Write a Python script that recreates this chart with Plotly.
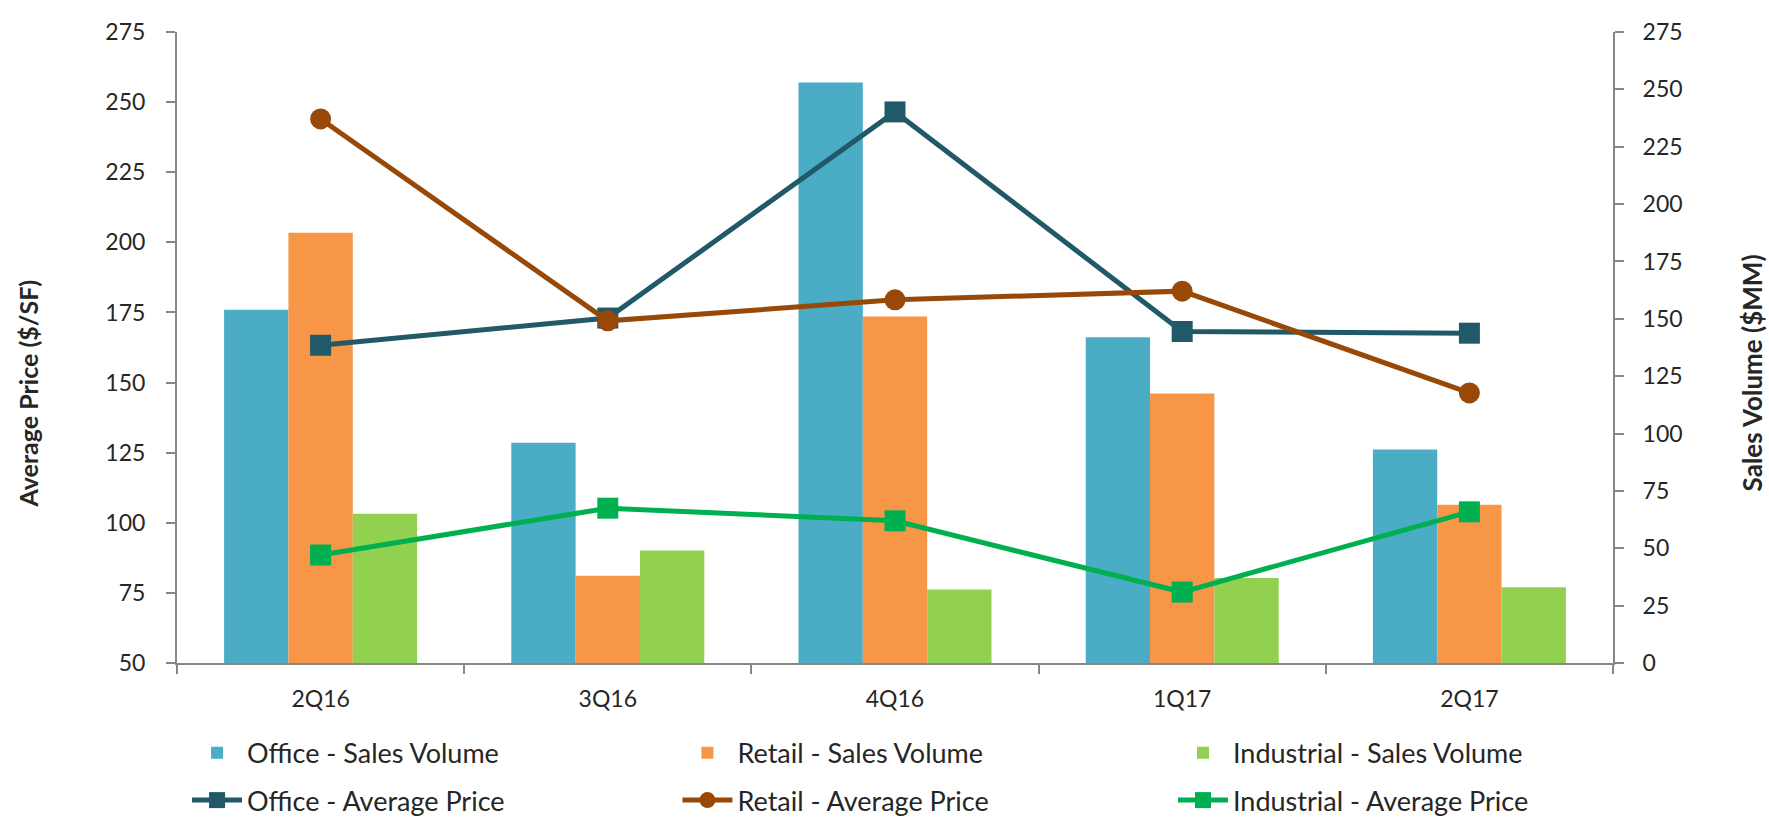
import plotly.graph_objects as go

quarters = ["2Q16", "3Q16", "4Q16", "1Q17", "2Q17"]

# Sales Volume ($MM) - right axis
office_volume = [154, 96, 253, 142, 93]
retail_volume = [187.5, 38, 151, 117.5, 69]
industrial_volume = [65, 49, 32, 37, 33]

# Average Price ($/SF) - left axis
office_price = [163.3, 173, 246.5, 168.2, 167.6]
retail_price = [244, 172, 179.5, 182.6, 146.3]
industrial_price = [88.5, 105.2, 100.7, 75.3, 103.9]

price_ticks = list(range(50, 276, 25))
volume_ticks = list(range(0, 276, 25))

FONT = "Lato"
TXT = "#262626"
AXC = "#878787"

fig = go.Figure()

legend_x = [0.007, 0.3485, 0.6936]
row_y = [-0.143, -0.218]

bar_specs = [
    ("Office - Sales Volume", office_volume, "#4BACC6"),
    ("Retail - Sales Volume", retail_volume, "#F79646"),
    ("Industrial - Sales Volume", industrial_volume, "#92D050"),
]
line_specs = [
    ("Office - Average Price", office_price, "#215968", "square"),
    ("Retail - Average Price", retail_price, "#984807", "circle"),
    ("Industrial - Average Price", industrial_price, "#00B050", "square"),
]

legends = {}
k = 1
for i, (name, vals, col) in enumerate(bar_specs):
    lg = "legend" if k == 1 else f"legend{k}"
    fig.add_trace(go.Bar(x=quarters, y=vals, name=name, marker_color=col,
                         marker_line_width=0, yaxis="y", legend=lg, showlegend=True))
    legends[lg] = dict(x=legend_x[i], y=row_y[0])
    k += 1
for i, (name, vals, col, sym) in enumerate(line_specs):
    lg = f"legend{k}"
    fig.add_trace(go.Scatter(x=quarters, y=vals, name=name, mode="lines+markers",
                             line=dict(color=col, width=5),
                             marker=dict(color=col, symbol=sym, size=21),
                             yaxis="y2", legend=lg, showlegend=True))
    legends[lg] = dict(x=legend_x[i], y=row_y[1])
    k += 1

legend_layout = {}
for lg, pos in legends.items():
    legend_layout[lg] = dict(orientation="h", x=pos["x"], y=pos["y"], xanchor="left",
                             yanchor="middle", itemwidth=50, visible=True,
                             font=dict(size=27, color=TXT), bgcolor="rgba(0,0,0,0)")

fig.update_layout(
    width=1769, height=819, showlegend=True,
    margin=dict(l=177, r=156, t=32, b=156, autoexpand=False),
    paper_bgcolor="white", plot_bgcolor="white",
    font=dict(family=FONT, color=TXT, size=23),
    barmode="group", bargap=0.328, bargroupgap=0,
    xaxis=dict(type="category", tickson="boundaries", ticks="outside", ticklen=9,
               tickwidth=2, tickcolor=AXC, showline=True, linecolor=AXC, linewidth=2,
               showgrid=False, tickfont=dict(size=23, color=TXT), ticklabelstandoff=14),
    yaxis=dict(side="right", range=[0, 275], tickvals=volume_ticks, ticks="outside",
               ticklen=9, tickwidth=2, tickcolor=AXC, showline=True, linecolor=AXC,
               linewidth=2, showgrid=False, zeroline=False,
               tickfont=dict(size=23, color=TXT), ticklabelstandoff=14),
    yaxis2=dict(side="left", overlaying="y", range=[50, 275], tickvals=price_ticks,
                ticks="outside", ticklen=9, tickwidth=2, tickcolor=AXC, showline=True,
                linecolor=AXC, linewidth=2, showgrid=False, zeroline=False,
                tickfont=dict(size=23, color=TXT), ticklabelstandoff=16),
    annotations=[
        dict(text="<b>Average Price ($/SF)</b>", xref="paper", yref="paper",
             x=-0.1038, y=0.427, textangle=-90, showarrow=False,
             font=dict(size=25, color=TXT), xanchor="center", yanchor="middle"),
        dict(text="<b>Sales Volume ($MM)</b>", xref="paper", yref="paper",
             x=1.0968, y=0.459, textangle=-90, showarrow=False,
             font=dict(size=26, color=TXT), xanchor="center", yanchor="middle"),
    ],
    **legend_layout,
)

fig.write_html("out.html")
